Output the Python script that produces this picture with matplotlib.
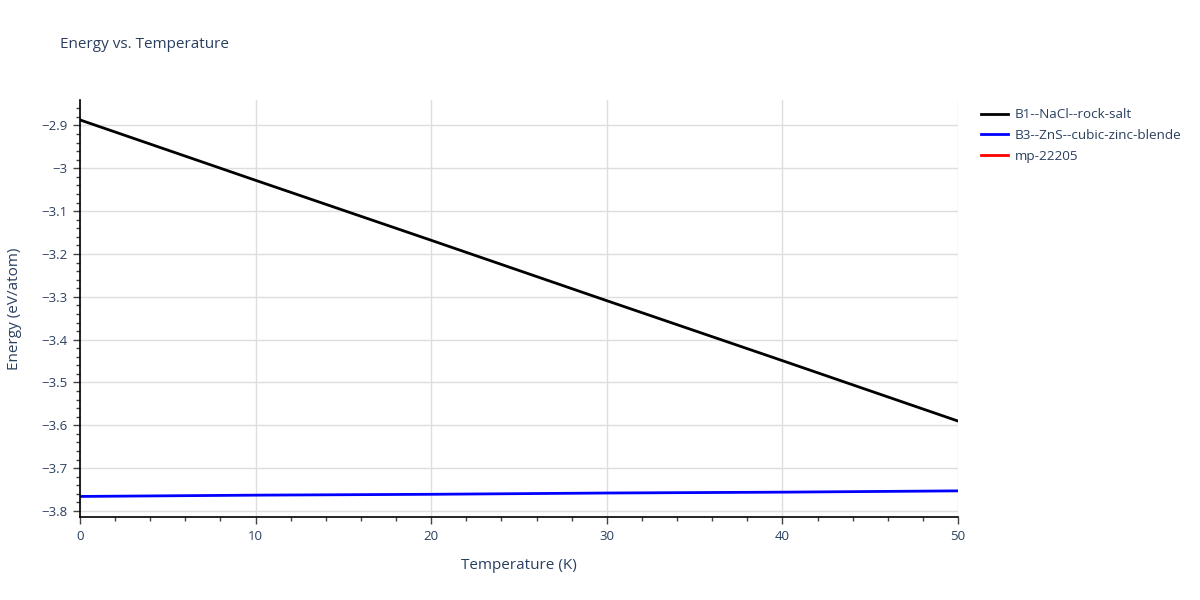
import numpy as np
import matplotlib
matplotlib.use('Agg')
import matplotlib.pyplot as plt
from matplotlib.ticker import MultipleLocator, FuncFormatter

plt.rcParams['font.family'] = ['Open Sans', 'DejaVu Sans']

# Datos
temperatura = [0, 10, 20, 30, 40, 50]
energia_b1 = [-2.887, -3.028, -3.168, -3.309, -3.449, -3.590]
energia_b3 = [-3.766, -3.763, -3.761, -3.758, -3.756, -3.753]
energia_mp = []
temperatura_mp = []

nombres = ['B1--NaCl--rock-salt', 'B3--ZnS--cubic-zinc-blende', 'mp-22205']
colores = ['black', 'blue', 'red']

texto = '#2a3f5f'
rejilla = '#dedede'

fig = plt.figure(figsize=(12, 6), dpi=100)
ax = fig.add_axes([80 / 1200, 83 / 600, 878 / 1200, 417 / 600])

ax.plot(temperatura, energia_b1, color=colores[0], lw=2, label=nombres[0])
ax.plot(temperatura, energia_b3, color=colores[1], lw=2, label=nombres[1])
ax.plot(temperatura_mp, energia_mp, color=colores[2], lw=2, label=nombres[2])

ax.set_xlim(0, 50)
ax.set_ylim(-3.814, -2.8405)

ax.xaxis.set_major_locator(MultipleLocator(10))
ax.xaxis.set_minor_locator(MultipleLocator(2))
ax.yaxis.set_major_locator(MultipleLocator(0.1))
ax.yaxis.set_minor_locator(MultipleLocator(0.02))

fmt = FuncFormatter(lambda v, p: ('%g' % round(v, 4)).replace('-', '\u2212'))
ax.xaxis.set_major_formatter(fmt)
ax.yaxis.set_major_formatter(fmt)

ax.grid(True, which='major', color=rejilla, lw=1)
ax.set_axisbelow(True)
for lado in ['top', 'right']:
    ax.spines[lado].set_visible(False)
for lado in ['left', 'bottom']:
    ax.spines[lado].set_color('black')
    ax.spines[lado].set_linewidth(1.2)

ax.tick_params(which='major', direction='out', length=5, width=1, color='#444444',
               labelsize=9.5, labelcolor=texto, pad=4)
ax.tick_params(which='minor', direction='out', length=3, width=1, color='#444444')

ax.set_xlabel('Temperature (K)', fontsize=11, color=texto, labelpad=11)
ax.set_ylabel('Energy (eV/atom)', fontsize=11, color=texto, labelpad=14)

fig.text(60 / 1200, 1 - 45 / 600, 'Energy vs. Temperature', fontsize=11,
         color=texto, va='center', ha='left')

fig.legend(loc='upper left', bbox_to_anchor=(976 / 1200, 1 - 103 / 600),
           frameon=False, fontsize=9.7, labelcolor=texto, handlelength=2.0,
           handletextpad=0.5, labelspacing=0.58, borderaxespad=0)

fig.savefig('out.png', dpi=100)
